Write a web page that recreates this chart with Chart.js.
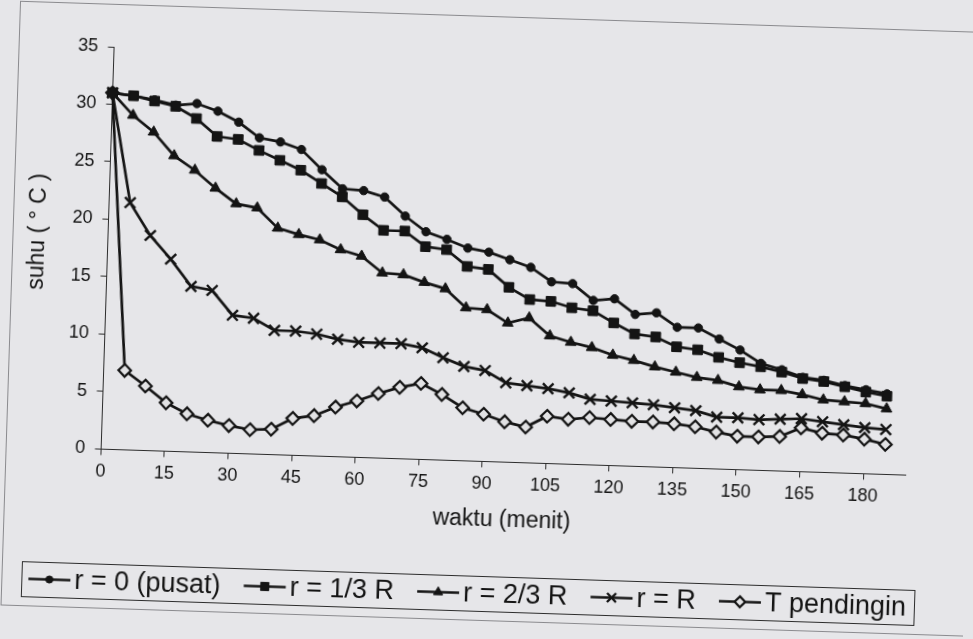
<!DOCTYPE html>
<html>
<head>
<meta charset="utf-8">
<title>Suhu terhadap waktu</title>
<script src="https://cdn.jsdelivr.net/npm/chart.js@4.4.1/dist/chart.umd.min.js"></script>
<style>
  html, body { margin: 0; padding: 0; width: 973px; height: 639px; overflow: hidden; background: #e6e6e9; }
  #lembar { position: absolute; left: 0; top: 0; width: 973px; height: 639px;
            transform: rotate(1.85deg); transform-origin: 486.5px 319.5px; }
  canvas { display: block; }
</style>
</head>
<body>
<div id="lembar"><canvas id="grafik" width="973" height="639"></canvas></div>
<script>
// Waktu pengukuran (menit)
const waktu = [0, 5, 10, 15, 20, 25, 30, 35, 40, 45, 50, 55, 60, 65, 70, 75, 80, 85, 90,
               95, 100, 105, 110, 115, 120, 125, 130, 135, 140, 145, 150, 155, 160, 165, 170, 175, 180, 185];

// Suhu (°C) pada tiap posisi
const suhuPusat = [31.0, 30.8, 30.5, 30.1, 30.3, 29.7, 28.8, 27.5, 27.2, 26.6, 24.9, 23.3, 23.2, 22.7, 21.1, 19.8, 19.2, 18.5, 18.2,
                   17.6, 17.0, 15.8, 15.7, 14.3, 14.5, 13.2, 13.4, 12.2, 12.2, 11.3, 10.4, 9.3, 8.8, 8.2, 8.0, 7.6, 7.3, 7.0];
const suhuSepertiga = [31.0, 30.8, 30.4, 30.0, 29.0, 27.5, 27.3, 26.4, 25.6, 24.8, 23.7, 22.6, 21.1, 19.8, 19.8, 18.5, 18.3, 16.9, 16.7,
                       15.2, 14.2, 14.1, 13.6, 13.4, 12.4, 11.5, 11.3, 10.5, 10.3, 9.7, 9.3, 9.0, 8.6, 8.1, 7.9, 7.5, 7.1, 6.8];
const suhuDuaPertiga = [31.0, 29.1, 27.7, 25.7, 24.5, 23.0, 21.7, 21.4, 19.7, 19.2, 18.8, 18.0, 17.5, 16.1, 16.0, 15.4, 14.9, 13.3, 13.2,
                        12.1, 12.6, 11.1, 10.6, 10.2, 9.6, 9.2, 8.7, 8.3, 7.9, 7.7, 7.2, 7.0, 7.0, 6.7, 6.3, 6.2, 6.1, 5.7];
const suhuTepi = [31.0, 21.5, 18.7, 16.7, 14.4, 14.1, 12.0, 11.8, 10.8, 10.8, 10.6, 10.2, 10.0, 10.0, 10.0, 9.7, 8.9, 8.2, 7.9,
                  6.9, 6.7, 6.5, 6.2, 5.7, 5.6, 5.5, 5.4, 5.2, 5.0, 4.5, 4.5, 4.4, 4.5, 4.6, 4.4, 4.2, 4.0, 3.9];
const suhuPendingin = [31.0, 6.9, 5.6, 4.2, 3.3, 2.8, 2.4, 2.1, 2.2, 3.2, 3.5, 4.3, 4.9, 5.6, 6.2, 6.6, 5.7, 4.6, 4.1,
                       3.5, 3.1, 4.1, 3.9, 4.1, 4.0, 3.9, 3.9, 3.8, 3.6, 3.2, 2.9, 2.9, 3.0, 3.8, 3.4, 3.3, 3.0, 2.6];

// Sumbu
const sumbuX = { min: 0, max: 190, langkah: 15 };
const sumbuY = { min: 0, max: 35, langkah: 5 };
const judulX = 'waktu (menit)';
const judulY = 'suhu ( ° C )';

const HURUF = "'Liberation Sans', Arial, sans-serif";
const HITAM = '#141414';

const titik = (nilai) => waktu.map((t, i) => ({ x: t, y: nilai[i] }));

function seri(label, nilai, gaya, radius, isi, tebalTepi) {
  return {
    label: label,
    data: titik(nilai),
    borderColor: HITAM,
    borderWidth: 2.7,
    tension: 0,
    clip: false,
    pointStyle: gaya,
    pointRadius: radius,
    pointHoverRadius: radius,
    pointBackgroundColor: isi,
    pointBorderColor: HITAM,
    pointBorderWidth: tebalTepi
  };
}

// Bingkai luar, judul sumbu tegak, dan kotak legenda dengan contoh garis + penanda
const bingkaiDanLegenda = {
  id: 'bingkaiDanLegenda',
  beforeDraw(chart) {
    const ctx = chart.ctx;
    ctx.save();
    ctx.strokeStyle = '#8a8a8e';
    ctx.lineWidth = 1;
    ctx.strokeRect(10.5, 16.5, 1000, 604);
    ctx.restore();
  },
  afterDraw(chart) {
    const ctx = chart.ctx;
    ctx.save();

    // judul sumbu tegak
    ctx.save();
    ctx.translate(36, 246);
    ctx.rotate(-Math.PI / 2);
    ctx.font = '23px ' + HURUF;
    ctx.fillStyle = HITAM;
    ctx.textAlign = 'center';
    ctx.textBaseline = 'middle';
    ctx.fillText(judulY, 0, 0);
    ctx.restore();

    // legenda
    const kotak = { l: 30, t: 576, r: 923, b: 611 };
    ctx.strokeStyle = '#2c2c2c';
    ctx.lineWidth = 1;
    ctx.strokeRect(kotak.l + 0.5, kotak.t + 0.5, kotak.r - kotak.l, kotak.b - kotak.t);

    ctx.font = '27px ' + HURUF;
    const cy = (kotak.t + kotak.b) / 2;
    const contoh = 42, jarakTeks = 4;
    const item = chart.data.datasets.map(ds => ({ ds, w: ctx.measureText(ds.label).width }));
    const alami = item.reduce((a, it) => a + contoh + jarakTeks + it.w, 0);
    const awal = kotak.l + 7, akhir = kotak.r - 8;
    const sela = Math.max(4, (akhir - awal - alami) / (item.length - 1));
    let x = awal;
    item.forEach(({ ds, w }) => {
      ctx.strokeStyle = HITAM;
      ctx.lineWidth = 2.7;
      ctx.beginPath();
      ctx.moveTo(x, cy);
      ctx.lineTo(x + contoh, cy);
      ctx.stroke();
      ctx.fillStyle = ds.pointBackgroundColor;
      ctx.strokeStyle = ds.pointBorderColor;
      ctx.lineWidth = ds.pointBorderWidth;
      Chart.helpers.drawPoint(ctx, {
        pointStyle: ds.pointStyle, radius: ds.pointRadius * 0.85, borderWidth: ds.pointBorderWidth, rotation: 0
      }, x + contoh / 2, cy);
      ctx.fillStyle = HITAM;
      ctx.textBaseline = 'middle';
      ctx.textAlign = 'left';
      ctx.fillText(ds.label, x + contoh + jarakTeks, cy + 1);
      x += contoh + jarakTeks + w + sela;
    });
    ctx.restore();
  }
};

const sumbuUmum = {
  grid: { drawOnChartArea: false, drawTicks: true, tickLength: 6, color: '#2c2c2c', lineWidth: 1 },
  border: { display: true, color: '#2c2c2c', width: 1 }
};

new Chart(document.getElementById('grafik'), {
  type: 'line',
  data: {
    datasets: [
      seri('r = 0 (pusat)', suhuPusat, 'circle', 4.2, HITAM, 1),
      seri('r = 1/3 R', suhuSepertiga, 'rect', 6.8, HITAM, 1),
      seri('r = 2/3 R', suhuDuaPertiga, 'triangle', 6.2, HITAM, 1),
      seri('r = R', suhuTepi, 'crossRot', 7.5, HITAM, 2.4),
      seri('T pendingin', suhuPendingin, 'rectRot', 6.3, '#e2e2e4', 2.2)
    ]
  },
  options: {
    responsive: false,
    animation: false,
    devicePixelRatio: 1,
    layout: { padding: { left: 14, top: 59, right: 62.6, bottom: 105.4 } },
    plugins: { legend: { display: false }, tooltip: { enabled: false } },
    scales: {
      x: {
        type: 'linear',
        min: sumbuX.min,
        max: sumbuX.max,
        ...sumbuUmum,
        ticks: {
          stepSize: sumbuX.langkah, includeBounds: false, autoSkip: false, maxRotation: 0,
          color: HITAM, padding: 6, font: { family: HURUF, size: 18 }
        },
        title: { display: true, text: judulX, color: HITAM, padding: 0, font: { family: HURUF, size: 23 } },
        afterFit(skala) { skala.height = 72.2; }
      },
      y: {
        type: 'linear',
        min: sumbuY.min,
        max: sumbuY.max,
        ...sumbuUmum,
        ticks: {
          stepSize: sumbuY.langkah, color: HITAM, padding: 10, font: { family: HURUF, size: 18 }
        },
        title: { display: false },
        afterFit(skala) { skala.width = 91.4; }
      }
    }
  },
  plugins: [bingkaiDanLegenda]
});
</script>
</body>
</html>
